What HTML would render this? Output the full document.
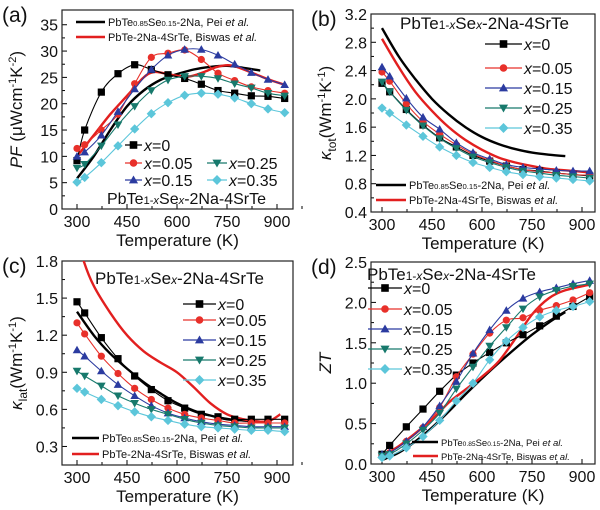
<!DOCTYPE html>
<html><head><meta charset="utf-8"><style>
html,body{margin:0;padding:0;background:#fff;}
svg{display:block;font-family:"Liberation Sans",sans-serif;}
</style></head><body>
<svg id="fig" width="600" height="510" viewBox="0 0 600 510" xmlns="http://www.w3.org/2000/svg"></svg>
<script>
const temps = [300,323,373,423,473,523,573,623,673,723,773,823,873,923];
const seriesNames = ["x=0","x=0.05","x=0.15","x=0.25","x=0.35"];
// (a) power factor
const pfX0   = [9.2,15,22.2,25.7,27.4,26.5,25.5,24.8,23.7,22.5,22,21.5,21.4,21];
const pfX05  = [11.5,12.2,15,18,23.8,28.8,29.6,30.2,28.4,25.8,24.4,23.2,22.5,22];
const pfX15  = [10,10.8,14,18.5,22.8,26.5,29.2,30.3,30.3,29.2,27.5,25.9,24.6,23.6];
const pfX25  = [7.8,8.5,12,16,19.5,22.5,24.5,25.2,25.2,24.8,23.8,23,22,21.5];
const pfX35  = [5.1,6,8.8,12,15.2,18.1,20.2,21.6,22,21.8,21.1,20,19,18.3];
const peiTa = [300,350,400,450,500,550,600,650,700,750,800,850];
const pfPei = [5.8,10,15,19.5,22.5,24.5,25.6,26.5,27,27.2,26.8,26.3];
const bisTa = [300,350,400,450,500,530,560,600,640,680,720,760,800,840,880,923];
const pfBis = [10,14,18,21.5,25,26,25.8,25.3,25.2,26,27,27.3,26.5,25.5,24.5,23.6];
// (b) total thermal conductivity
const ktX0  = [2.22,2.1,1.85,1.63,1.45,1.32,1.2,1.12,1.05,1.0,0.98,0.95,0.93,0.91];
const ktX05 = [2.38,2.25,1.93,1.68,1.5,1.35,1.22,1.13,1.05,1.0,0.97,0.95,0.93,0.92];
const ktX15 = [2.45,2.32,2.01,1.74,1.57,1.38,1.24,1.15,1.07,1.03,1.01,0.99,0.98,0.98];
const ktX25 = [2.24,2.1,1.84,1.62,1.44,1.3,1.18,1.1,1.03,0.98,0.95,0.92,0.9,0.88];
const ktX35 = [1.87,1.8,1.63,1.47,1.32,1.2,1.1,1.03,0.97,0.93,0.9,0.88,0.86,0.84];
const peiTb = [300,350,400,450,500,550,600,650,700,750,800,850];
const ktPei = [3.0,2.6,2.28,2.0,1.78,1.6,1.46,1.36,1.29,1.24,1.21,1.19];
const bisTb = [300,350,400,450,500,550,600,650,700,750,800,850,923];
const ktBis = [2.85,2.45,2.1,1.83,1.6,1.42,1.28,1.17,1.1,1.05,1.01,0.99,0.96];
// (c) lattice thermal conductivity
const klX0  = [1.47,1.38,1.18,1.01,0.87,0.76,0.67,0.61,0.56,0.54,0.52,0.52,0.52,0.52];
const klX05 = [1.3,1.21,1.03,0.89,0.77,0.68,0.61,0.56,0.53,0.51,0.49,0.49,0.49,0.49];
const klX15 = [1.08,1.03,0.91,0.8,0.71,0.63,0.57,0.53,0.5,0.48,0.47,0.46,0.46,0.46];
const klX25 = [0.91,0.87,0.79,0.71,0.65,0.6,0.56,0.52,0.49,0.47,0.46,0.45,0.45,0.45];
const klX35 = [0.77,0.74,0.68,0.63,0.58,0.54,0.51,0.48,0.46,0.45,0.44,0.43,0.43,0.42];
const peiTc = [300,350,400,450,500,550,600,650,700,750,800,850];
const klPei = [1.39,1.2,1.05,0.93,0.82,0.73,0.65,0.59,0.55,0.52,0.51,0.5];
const bisTc = [300,320,350,400,450,500,550,600,650,700,750,800,850,880,910];
const klBis = [2.0,1.8,1.6,1.38,1.2,1.07,0.98,0.9,0.78,0.65,0.56,0.52,0.5,0.51,0.56];
// (d) ZT
const ztX0  = [0.12,0.23,0.46,0.68,0.9,1.1,1.25,1.38,1.5,1.6,1.71,1.83,1.95,2.07];
const ztX05 = [0.1,0.14,0.28,0.45,0.7,1.08,1.36,1.62,1.78,1.81,1.9,1.96,2.03,2.12];
const ztX15 = [0.12,0.14,0.28,0.46,0.72,1.02,1.37,1.66,1.9,2.05,2.13,2.18,2.23,2.27];
const ztX25 = [0.1,0.12,0.25,0.42,0.63,0.93,1.2,1.46,1.69,1.92,2.07,2.15,2.2,2.23];
const ztX35 = [0.08,0.1,0.2,0.34,0.54,0.78,1.0,1.29,1.52,1.69,1.82,1.9,1.95,2.01];
const peiTd = [300,350,400,450,500,550,600,650,700,750,800,850];
const ztPei = [0.05,0.14,0.28,0.45,0.65,0.86,1.06,1.25,1.43,1.6,1.75,1.88];
const bisTd = [300,350,400,450,500,550,600,650,700,750,800,850,923];
const ztBis = [0.1,0.22,0.38,0.55,0.76,0.92,1.08,1.27,1.55,1.85,2.05,2.15,2.22];

const xTicks = [300,450,600,750,900];
const yTicksA = [0,5,10,15,20,25,30,35];
const yTicksB = [0.4,0.8,1.2,1.6,2.0,2.4,2.8,3.2];
const yTicksC = [0.3,0.6,0.9,1.2,1.5,1.8];
const yTicksD = [0.0,0.5,1.0,1.5,2.0,2.5];

const colors = ["#000000","#e8302a","#2b3ba0","#17796c","#5cc6da"];
const markers = ["square","circle","up","down","diamond"];
const NS = "http://www.w3.org/2000/svg";
const svg = document.getElementById("fig");

function el(tag, attrs, parent){
  const e = document.createElementNS(NS, tag);
  for (const k in attrs) e.setAttribute(k, attrs[k]);
  (parent||svg).appendChild(e);
  return e;
}
function smoothPath(pts){
  let d = "M"+pts[0][0].toFixed(1)+","+pts[0][1].toFixed(1);
  for (let i=0;i<pts.length-1;i++){
    const p0=pts[Math.max(0,i-1)], p1=pts[i], p2=pts[i+1], p3=pts[Math.min(pts.length-1,i+2)];
    const c1=[p1[0]+(p2[0]-p0[0])/6, p1[1]+(p2[1]-p0[1])/6];
    const c2=[p2[0]-(p3[0]-p1[0])/6, p2[1]-(p3[1]-p1[1])/6];
    d += " C"+c1[0].toFixed(1)+","+c1[1].toFixed(1)+" "+c2[0].toFixed(1)+","+c2[1].toFixed(1)+" "+p2[0].toFixed(1)+","+p2[1].toFixed(1);
  }
  return d;
}
function marker(g, type, cx, cy, color, s){
  let m;
  if (type==="square") m = el("rect",{x:cx-s,y:cy-s,width:2*s,height:2*s,fill:color},g);
  else if (type==="circle") m = el("circle",{cx:cx,cy:cy,r:s,fill:color},g);
  else if (type==="up") m = el("polygon",{points:`${cx},${cy-s*1.2} ${cx-s*1.2},${cy+s*0.9} ${cx+s*1.2},${cy+s*0.9}`,fill:color},g);
  else if (type==="down") m = el("polygon",{points:`${cx},${cy+s*1.2} ${cx-s*1.2},${cy-s*0.9} ${cx+s*1.2},${cy-s*0.9}`,fill:color},g);
  else m = el("polygon",{points:`${cx},${cy-s*1.3} ${cx+s*1.3},${cy} ${cx},${cy+s*1.3} ${cx-s*1.3},${cy}`,fill:color},g);
  return m;
}

function panel(cfg){
  const g = el("g",{});
  
  
  const X = t => cfg.L + (t - cfg.xmin)/(cfg.xmax-cfg.xmin)*(cfg.R-cfg.L);
  const Y = v => cfg.B - (v - cfg.ymin)/(cfg.ymax-cfg.ymin)*(cfg.B-cfg.T);
  const clipId = "clip"+cfg.id;
  const cp = el("clipPath",{id:clipId},g);
  el("rect",{x:cfg.L,y:cfg.T,width:cfg.R-cfg.L,height:cfg.B-cfg.T},cp);
  // ticks
  xTicks.forEach(t=>{
    const x=X(t);
    const tk = el("line",{x1:x,x2:x,y1:cfg.B,y2:cfg.B-5,stroke:"#000","stroke-width":1},g);
    
    
    el("line",{x1:X(t+75),x2:X(t+75),y1:cfg.B,y2:cfg.B-3,stroke:"#000","stroke-width":1},g);
    const lb = el("text",{x:x,y:cfg.B+18,"font-size":16,"text-anchor":"middle",fill:"#111"},g);
    lb.textContent = t;
    
    
  });
  cfg.yTicks.forEach((v,i)=>{
    const y=Y(v);
    el("line",{x1:cfg.L,x2:cfg.L+5,y1:y,y2:y,stroke:"#000","stroke-width":1},g);
    if (i<cfg.yTicks.length-1){const ym=Y((v+cfg.yTicks[i+1])/2); el("line",{x1:cfg.L,x2:cfg.L+3,y1:ym,y2:ym,stroke:"#000","stroke-width":1},g);}
    const lb = el("text",{x:cfg.L-4,y:y+6,"font-size":16,"text-anchor":"end",fill:"#111"},g);
    lb.textContent = cfg.yFmt(v);
    
    
  });
  const frame = el("rect",{x:cfg.L,y:cfg.T,width:cfg.R-cfg.L,height:cfg.B-cfg.T,fill:"none",stroke:"#222","stroke-width":1.2},g);
  
  
  const xt = el("text",{x:(cfg.L+cfg.R)/2,y:cfg.B+37,"font-size":17,"text-anchor":"middle",fill:"#111"},g);
  xt.textContent = "Temperature (K)";
  
  
  const yt = el("text",{x:0,y:0,"font-size":17,"text-anchor":"middle",fill:"#111",transform:`translate(${cfg.ytx},${(cfg.T+cfg.B)/2}) rotate(-90)`},g);
  yt.innerHTML = cfg.yTitle;
  
  
  const pl = el("text",{x:cfg.L-60,y:cfg.T+12,"font-size":21,fill:"#111"},g);
  pl.textContent = "("+cfg.id+")";
  
  

  const pg = el("g",{"clip-path":`url(#${clipId})`},g);
  // reference lines
  const refs = [[cfg.peiT,cfg.pei,"#000","pei-reference-line"],[cfg.bisT,cfg.bis,"#e21f1f","biswas-reference-line"]];
  refs.forEach(r=>{
    const p = el("path",{d:smoothPath(r[0].map((t,i)=>[X(t),Y(r[1][i])])),fill:"none",stroke:r[2],"stroke-width":2.4},pg);
    
    
  });
  cfg.series.forEach((vals,si)=>{
    const pts = temps.map((t,i)=>[X(t),Y(vals[i])]);
    const sg = el("g",{},pg);
    
    
    el("path",{d:smoothPath(pts),fill:"none",stroke:colors[si],"stroke-width":1.1},sg);
    pts.forEach(p=>{
      const m = marker(sg, markers[si], p[0], p[1], colors[si], 3.6);
      
      
    });
  });
  // composition label
  const cl = el("text",{x:cfg.comp[0],y:cfg.comp[1],"font-size":cfg.comp[2],fill:"#111"},g);
  cl.innerHTML = 'PbTe<tspan font-size="'+(cfg.comp[2]*0.7)+'">1-<tspan font-style="italic">x</tspan></tspan>Se<tspan font-size="'+(cfg.comp[2]*0.7)+'" font-style="italic">x</tspan>-2Na-4SrTe';
  
  
  // marker legend
  cfg.leg.forEach((p,si)=>{
    const lg = el("g",{},g);
    
    
    el("line",{x1:p[0],x2:p[1],y1:p[2],y2:p[2],stroke:colors[si],"stroke-width":1.3},lg);
    marker(lg, markers[si], (p[0]+p[1])/2, p[2], colors[si], 3.8);
    const t = el("text",{x:p[1]+2,y:p[2]+6,"font-size":16,fill:"#111"},lg);
    t.innerHTML = '<tspan font-style="italic">x</tspan>'+seriesNames[si].slice(1);
  });
  // reference legend
  const rl = cfg.refLeg;
  [["#000",'PbTe<tspan font-size="'+(rl.fs*0.7)+'">0.85</tspan>Se<tspan font-size="'+(rl.fs*0.7)+'">0.15</tspan>-2Na, Pei <tspan font-style="italic">et al.</tspan>'],
   ["#e21f1f",'PbTe-2Na-4SrTe, Biswas <tspan font-style="italic">et al.</tspan>']].forEach((r,i)=>{
    const lg = el("g",{},g);
    
    
    const y = rl.y[i];
    el("line",{x1:rl.x1[i],x2:rl.x2,y1:y,y2:y,stroke:r[0],"stroke-width":2.4},lg);
    const t = el("text",{x:rl.x2+3,y:y+4,"font-size":rl.fs,fill:"#111"},lg);
    t.innerHTML = r[1];
  });
}

panel({id:"a",L:62,R:293,T:10,B:209,xmin:255,xmax:948,ymin:0,ymax:37.8,yTicks:yTicksA,yFmt:v=>String(v),
  ytx:22,yTitle:'<tspan font-style="italic">PF</tspan> (μWcm<tspan dy="-6" font-size="11">-1</tspan><tspan dy="6">K</tspan><tspan dy="-6" font-size="11">-2</tspan><tspan dy="6">)</tspan>',
  series:[pfX0,pfX05,pfX15,pfX25,pfX35],peiT:peiTa,pei:pfPei,bisT:bisTa,bis:pfBis,
  comp:[107,204,16],
  leg:[[125,142,145],[125,142,163],[125,142,180],[207,227,163],[207,227,180]],
  refLeg:{x1:[76,76],x2:105,y:[22,37],fs:11}});
panel({id:"b",L:371,R:595,T:14,B:212,xmin:267,xmax:939,ymin:0.4,ymax:3.2,yTicks:yTicksB,yFmt:v=>v.toFixed(1),
  ytx:331,yTitle:'<tspan font-style="italic">κ</tspan><tspan dy="5" font-size="12">tot</tspan><tspan dy="-5">(Wm</tspan><tspan dy="-6" font-size="11">-1</tspan><tspan dy="6">K</tspan><tspan dy="-6" font-size="11">-1</tspan><tspan dy="6">)</tspan>',
  series:[ktX0,ktX05,ktX15,ktX25,ktX35],peiT:peiTb,pei:ktPei,bisT:bisTb,bis:ktBis,
  comp:[400,29,17],
  leg:[[485,522,44],[485,522,68],[485,522,88],[485,522,108],[485,522,128]],
  refLeg:{x1:[376,376],x2:406,y:[185,200],fs:11}});
panel({id:"c",L:62,R:293,T:261,B:465,xmin:255,xmax:948,ymin:0.15,ymax:1.8,yTicks:yTicksC,yFmt:v=>v.toFixed(1),
  ytx:22,yTitle:'<tspan font-style="italic">κ</tspan><tspan dy="5" font-size="12">lat</tspan><tspan dy="-5">(Wm</tspan><tspan dy="-6" font-size="11">-1</tspan><tspan dy="6">K</tspan><tspan dy="-6" font-size="11">-1</tspan><tspan dy="6">)</tspan>',
  series:[klX0,klX05,klX15,klX25,klX35],peiT:peiTc,pei:klPei,bisT:bisTc,bis:klBis,
  comp:[95,284,17],
  leg:[[183,216,304],[183,216,320],[183,216,340],[183,216,360],[183,216,380]],
  refLeg:{x1:[72,72],x2:99,y:[438,454],fs:11}});
panel({id:"d",L:371,R:595,T:262,B:464,xmin:267,xmax:939,ymin:0,ymax:2.5,yTicks:yTicksD,yFmt:v=>v.toFixed(1),
  ytx:331,yTitle:'<tspan font-style="italic">ZT</tspan>',
  series:[ztX0,ztX05,ztX15,ztX25,ztX35],peiT:peiTd,pei:ztPei,bisT:bisTd,bis:ztBis,
  comp:[367,280,17],
  leg:[[368,402,288],[368,402,309],[368,402,329],[368,402,349],[368,402,369]],
  refLeg:{x1:[412,413],x2:438,y:[442,456],fs:9.5}});
</script>
</body></html>
